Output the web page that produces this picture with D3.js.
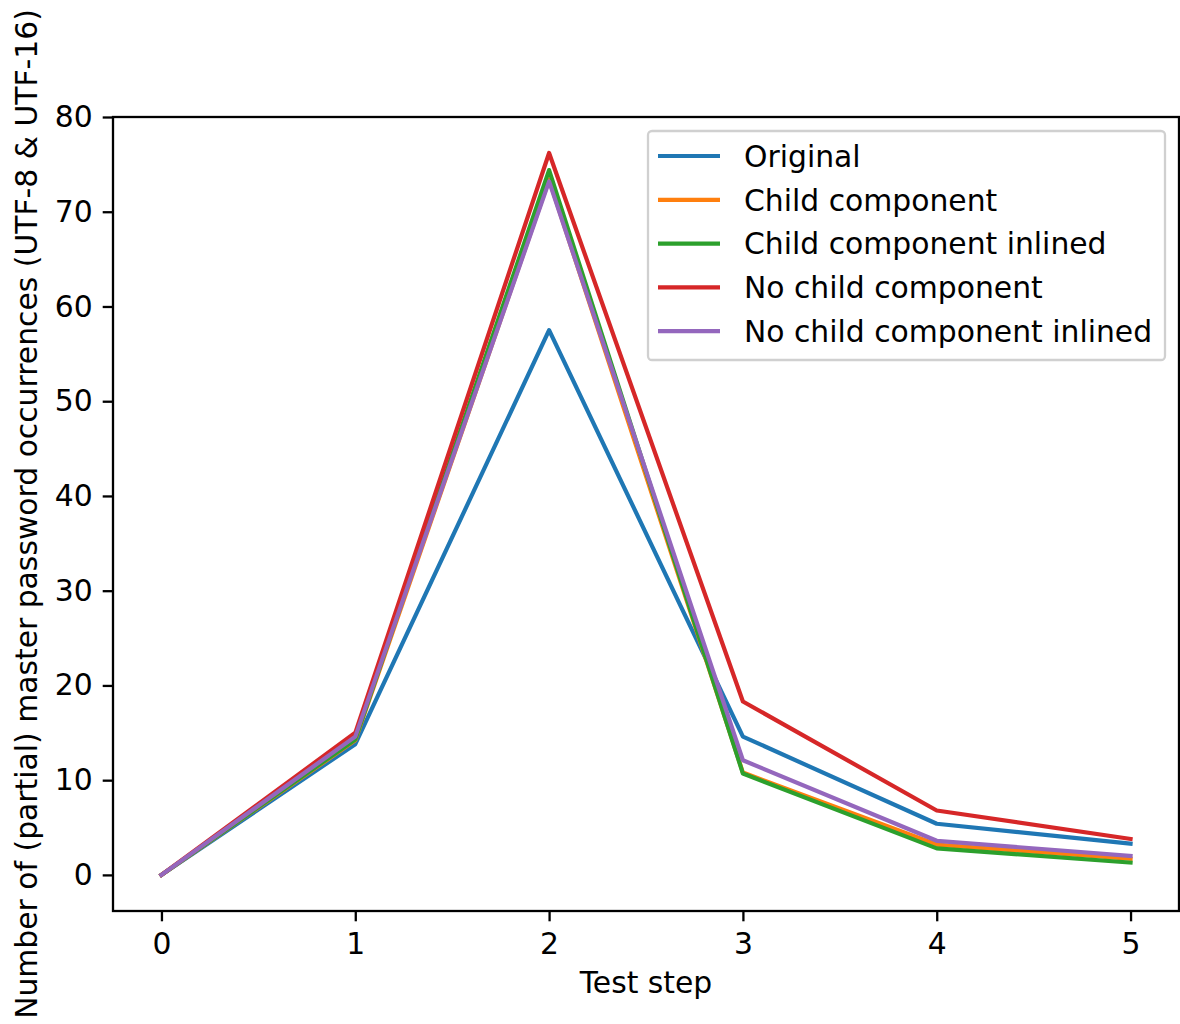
<!DOCTYPE html>
<html>
<head>
<meta charset="utf-8">
<script src="https://cdn.jsdelivr.net/npm/d3@7"></script>
<style>
  body { margin: 0; background: #fff; }
  text { font-family: "DejaVu Sans", sans-serif; fill: #000; }
</style>
</head>
<body>
<script>
// chart data
var steps = [0, 1, 2, 3, 4, 5];
var seriesNames = ["Original", "Child component", "Child component inlined", "No child component", "No child component inlined"];
var seriesColors = ["#1f77b4", "#ff7f0e", "#2ca02c", "#d62728", "#9467bd"];
var original = [0, 13.8, 57.5, 14.6, 5.4, 3.3];
var childComp = [0, 14.2, 73.4, 10.8, 3.2, 1.7];
var childCompInlined = [0, 14.3, 74.4, 10.7, 2.8, 1.3];
var noChildComp = [0, 15.0, 76.2, 18.3, 6.8, 3.8];
var noChildCompInlined = [0, 14.6, 73.2, 12.1, 3.6, 2.0];
var yTicks = [0, 10, 20, 30, 40, 50, 60, 70, 80];

var allSeries = [original, childComp, childCompInlined, noChildComp, noChildCompInlined];

var width = 1180, height = 1024;
var margin = {left: 113, right: 1, top: 117, bottom: 113};
var fontSize = "29.8px";

var svg = d3.select("body").append("svg")
    .attr("width", width)
    .attr("height", height);

//scales, matplotlib style 5% padding
var x = d3.scaleLinear()
    .domain([-0.25, 5.25])
    .range([margin.left, width - margin.right]);
var y = d3.scaleLinear()
    .domain([-3.81, 80.0])
    .range([height - margin.bottom, margin.top]);

//lines
var line = d3.line()
    .x(function(d, i){ return x(steps[i]); })
    .y(function(d){ return y(d); });

svg.selectAll(".series")
    .data(allSeries)
    .enter()
    .append("path")
    .attr("class", "series")
    .attr("d", line)
    .attr("fill", "none")
    .attr("stroke", function(d, i){ return seriesColors[i]; })
    .attr("stroke-width", 4.2)
    .attr("stroke-linejoin", "round")
    .attr("stroke-linecap", "square");

//axes
var xAxis = svg.append("g")
    .attr("transform", "translate(0," + (height - margin.bottom) + ")")
    .call(d3.axisBottom(x).tickValues(steps).tickFormat(d3.format("d")).tickSize(10.3).tickPadding(12));
var yAxis = svg.append("g")
    .attr("transform", "translate(" + margin.left + ",0)")
    .call(d3.axisLeft(y).tickValues(yTicks).tickFormat(d3.format("d")).tickSize(10.3).tickPadding(10));

[xAxis, yAxis].forEach(function(ax){
    ax.select(".domain").remove();
    ax.selectAll("line").attr("stroke", "#000").attr("stroke-width", 2.3);
    ax.selectAll("text").style("font-size", fontSize).style("font-family", "DejaVu Sans");
});

//frame
svg.append("rect")
    .attr("x", margin.left)
    .attr("y", margin.top)
    .attr("width", width - margin.right - margin.left)
    .attr("height", height - margin.bottom - margin.top)
    .attr("fill", "none")
    .attr("stroke", "#000")
    .attr("stroke-width", 2.3);

//axis labels
svg.append("text")
    .attr("x", (margin.left + width - margin.right) / 2)
    .attr("y", 993)
    .attr("text-anchor", "middle")
    .style("font-size", fontSize)
    .text("Test step");

svg.append("text")
    .attr("transform", "translate(37," + ((margin.top + height - margin.bottom) / 2) + ") rotate(-90)")
    .attr("text-anchor", "middle")
    .style("font-size", fontSize)
    .text("Number of (partial) master password occurrences (UTF-8 & UTF-16)");

//legend
var legend = svg.append("g").attr("transform", "translate(648,131)");
legend.append("rect")
    .attr("width", 517)
    .attr("height", 229)
    .attr("rx", 4)
    .attr("fill", "#fff")
    .attr("fill-opacity", 0.8)
    .attr("stroke", "#d0d0d0")
    .attr("stroke-width", 2.3);

var rows = legend.selectAll(".leg")
    .data(seriesNames)
    .enter()
    .append("g")
    .attr("class", "leg")
    .attr("transform", function(d, i){ return "translate(0," + (25 + i * 43.8) + ")"; });
rows.append("line")
    .attr("x1", 10).attr("x2", 72)
    .attr("stroke", function(d, i){ return seriesColors[i]; })
    .attr("stroke-width", 4.2);
rows.append("text")
    .attr("x", 96)
    .attr("dy", "0.36em")
    .style("font-size", fontSize)
    .text(function(d){ return d; });
</script>
</body>
</html>
